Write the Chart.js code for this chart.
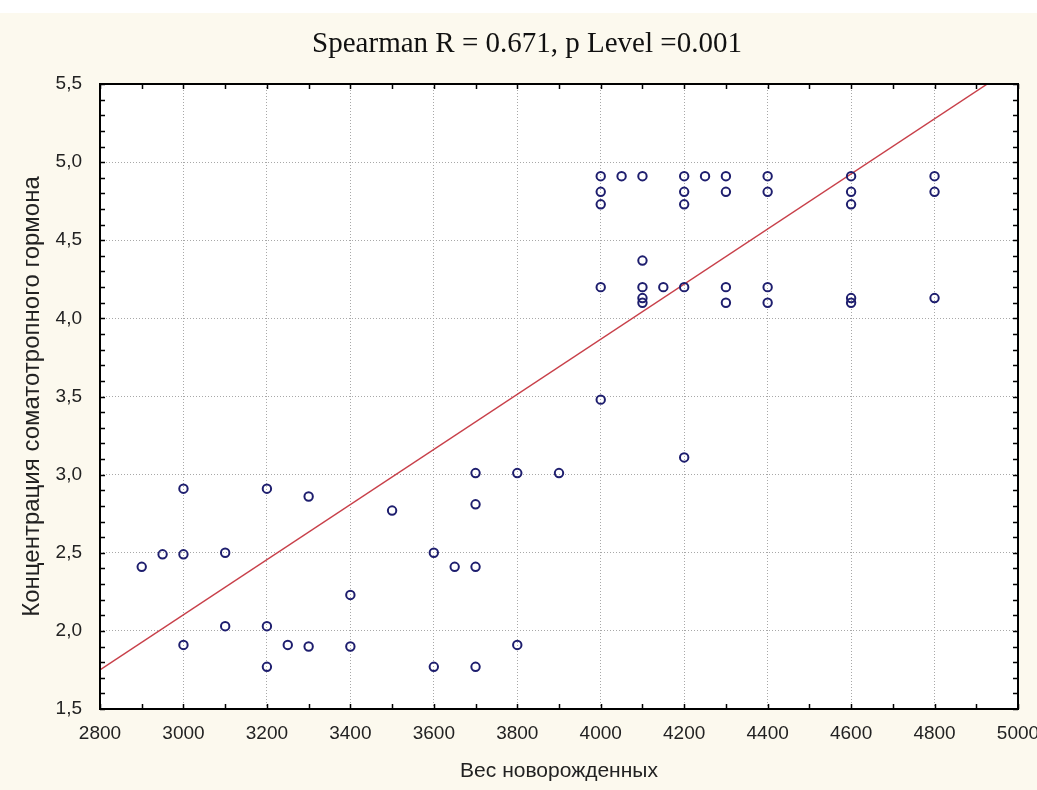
<!DOCTYPE html>
<html><head><meta charset="utf-8">
<script src="https://cdn.jsdelivr.net/npm/chart.js@4/dist/chart.umd.min.js"></script>
<style>html,body{margin:0;padding:0;background:#fff;}#wrap{width:1037px;height:790px;}</style>
</head><body><div id="wrap"><canvas id="c" width="1037" height="790"></canvas></div>
<script>
const chartTitle = 'Spearman R = 0.671, p Level =0.001';
const xAxisTitle = 'Вес новорожденных';
const yAxisTitle = 'Концентрация соматотропного гормона';

const xTickValues = [2800, 3000, 3200, 3400, 3600, 3800, 4000, 4200, 4400, 4600, 4800, 5000];
const xTickLabels = ['2800', '3000', '3200', '3400', '3600', '3800', '4000', '4200', '4400', '4600', '4800', '5000'];
const yTickValues = [1.5, 2.0, 2.5, 3.0, 3.5, 4.0, 4.5, 5.0, 5.5];
const yTickLabels = ['1,5', '2,0', '2,5', '3,0', '3,5', '4,0', '4,5', '5,0', '5,5'];

// Weight of newborns (x) and somatotropic hormone concentration (y)
const weight = [
  2900, 2950, 3000, 3000, 3000, 3100, 3100, 3200, 3200, 3200,
  3250, 3300, 3300, 3400, 3400, 3500, 3600, 3600, 3650, 3700,
  3700, 3700, 3700, 3800, 3800, 3900, 4000, 4200,
  4000, 4050, 4100, 4200, 4250, 4300, 4400, 4600, 4800,
  4000, 4200, 4300, 4400, 4600, 4800,
  4000, 4200, 4600,
  4100,
  4000, 4100, 4150, 4200, 4300, 4400,
  4100, 4100, 4300, 4400, 4600, 4600, 4800
];
const hormone = [
  2.41, 2.49, 2.49, 2.91, 1.91, 2.50, 2.03, 2.91, 2.03, 1.77,
  1.91, 2.86, 1.90, 2.23, 1.90, 2.77, 2.50, 1.77, 2.41, 3.01,
  2.81, 2.41, 1.77, 3.01, 1.91, 3.01, 3.48, 3.11,
  4.91, 4.91, 4.91, 4.91, 4.91, 4.91, 4.91, 4.91, 4.91,
  4.81, 4.81, 4.81, 4.81, 4.81, 4.81,
  4.73, 4.73, 4.73,
  4.37,
  4.20, 4.20, 4.20, 4.20, 4.20, 4.20,
  4.13, 4.10, 4.10, 4.10, 4.13, 4.10, 4.13
];

// Regression line end points
const fitX = [2800, 5000];
const fitY = [1.75, 5.63];

const xMinorStep = 100;
const yMinorStep = 0.1;

const points = weight.map((x, i) => ({ x: x, y: hormone[i] }));
const fitLine = fitX.map((x, i) => ({ x: x, y: fitY[i] }));

const framePlugin = {
  id: 'framePlugin',
  beforeDraw(chart) {
    const { ctx, chartArea: a } = chart;
    ctx.save();
    ctx.fillStyle = '#fcf9ee';
    ctx.fillRect(0, 13, chart.width, chart.height - 13);
    ctx.fillStyle = '#ffffff';
    ctx.fillRect(a.left, a.top, a.right - a.left, a.bottom - a.top);
    ctx.restore();
  },
  afterDatasetsDraw(chart) {
    const { ctx, chartArea: a, scales } = chart;
    const xs = scales.x, ys = scales.y;
    ctx.save();
    ctx.strokeStyle = '#000';
    ctx.lineWidth = 1.5;
    ctx.beginPath();
    const nx = Math.round((xs.max - xs.min) / xMinorStep);
    for (let i = 0; i <= nx; i++) {
      const px = Math.round(xs.getPixelForValue(xs.min + i * xMinorStep)) + 0.5;
      ctx.moveTo(px, a.top); ctx.lineTo(px, a.top + 5);
      ctx.moveTo(px, a.bottom); ctx.lineTo(px, a.bottom - 5);
    }
    const ny = Math.round((ys.max - ys.min) / yMinorStep);
    for (let i = 0; i <= ny; i++) {
      const py = Math.round(ys.getPixelForValue(ys.min + i * yMinorStep)) + 0.5;
      ctx.moveTo(a.left, py); ctx.lineTo(a.left + 5, py);
      ctx.moveTo(a.right, py); ctx.lineTo(a.right - 5, py);
    }
    ctx.stroke();
    ctx.lineWidth = 2;
    ctx.strokeRect(a.left, a.top, a.right - a.left, a.bottom - a.top);
    ctx.restore();
  }
};

const tickFont = { family: "'Liberation Sans', Arial, sans-serif", size: 19 };

new Chart(document.getElementById('c'), {
  type: 'scatter',
  data: {
    datasets: [
      {
        type: 'line',
        data: fitLine,
        borderColor: '#c8404a',
        borderWidth: 1.4,
        pointRadius: 0,
        fill: false,
        order: 2
      },
      {
        data: points,
        showLine: false,
        pointStyle: 'circle',
        pointRadius: 4.2,
        borderColor: '#1e1e6e',
        backgroundColor: 'rgba(0,0,0,0)',
        pointBorderWidth: 2,
        order: 1
      }
    ]
  },
  options: {
    responsive: false,
    animation: false,
    devicePixelRatio: 1,
    events: [],
    layout: { padding: { left: 36, right: 19, top: 0, bottom: 0 } },
    plugins: {
      legend: { display: false },
      tooltip: { enabled: false },
      title: {
        display: true,
        text: chartTitle,
        color: '#111',
        font: { family: "'Liberation Serif', 'Times New Roman', serif", size: 29, weight: 'normal' },
        padding: { top: 27, bottom: 22.2 }
      }
    },
    scales: {
      x: {
        type: 'linear',
        min: 2800, max: 5000,
        afterBuildTicks(scale) { scale.ticks = xTickValues.map(v => ({ value: v })); },
        afterFit(scale) { scale.height = 81; scale.paddingLeft = 0; scale.paddingRight = 0; },
        ticks: {
          font: tickFont, color: '#222', padding: 13, maxRotation: 0, autoSkip: false,
          callback: (v) => { const i = xTickValues.indexOf(v); return i >= 0 ? xTickLabels[i] : ''; }
        },
        grid: { color: '#a8a8a8', lineWidth: 1, drawTicks: false },
        border: { display: false, dash: [1, 2] },
        title: {
          display: true, text: xAxisTitle, color: '#222',
          font: { family: "'Liberation Sans', Arial, sans-serif", size: 21 },
          padding: { top: 0, bottom: 6 }
        }
      },
      y: {
        type: 'linear',
        min: 1.5, max: 5.5,
        afterBuildTicks(scale) { scale.ticks = yTickValues.map(v => ({ value: v })); },
        afterFit(scale) { scale.width = 64; scale.paddingTop = 0; scale.paddingBottom = 0; },
        ticks: {
          font: tickFont, color: '#222', padding: 18, autoSkip: false,
          callback: (v) => { const i = yTickValues.findIndex(t => Math.abs(t - v) < 1e-6); return i >= 0 ? yTickLabels[i] : ''; }
        },
        grid: { color: '#a8a8a8', lineWidth: 1, drawTicks: false },
        border: { display: false, dash: [1, 2] },
        title: {
          display: true, text: yAxisTitle, color: '#222',
          font: { family: "'Liberation Sans', Arial, sans-serif", size: 24 },
          padding: { top: -18.4, bottom: 0 }
        }
      }
    }
  },
  plugins: [framePlugin]
});
</script>
</body></html>
